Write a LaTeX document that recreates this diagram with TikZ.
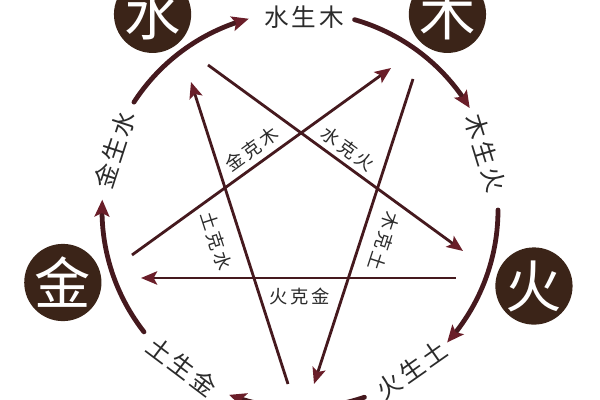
\documentclass[tikz,border=0pt]{standalone}
\usepackage{fontspec}
\usetikzlibrary{arrows.meta,bending}
\newfontfamily\cjk{Noto Sans CJK SC}
\newfontfamily\cjkout[LetterSpace=12]{Noto Sans CJK SC}
\newfontfamily\cjkin[LetterSpace=15]{Noto Sans CJK SC}
\definecolor{wxdark}{HTML}{3B2418}
\definecolor{wxline}{HTML}{45191E}
\definecolor{wxhead}{HTML}{6A1E29}
\definecolor{wxtext}{HTML}{2B2B2B}

\begin{document}
\begin{tikzpicture}[x=0.025cm, y=0.025cm,
	elem/.style={circle, fill=wxdark, text=white, minimum size=1.93cm, inner sep=0pt, font=\cjk\fontsize{40}{42}\selectfont},
	outlab/.style={text=wxtext, inner sep=0pt, font=\cjkout\fontsize{17.5}{20}\selectfont},
	inlab/.style={text=wxtext, inner sep=0pt, font=\cjkin\fontsize{13}{15}\selectfont},
	sheng/.style={draw=wxline, line width=3.4pt, line cap=round, -{Stealth[length=12pt, width=10.5pt, inset=2.5pt, color=wxhead, flex]}},
	ke/.style={draw=wxline, line width=2pt, -{Stealth[length=11.5pt, width=9.5pt, inset=2.5pt, color=wxhead]}}]
	\useasboundingbox (-300,-190) rectangle (300,210);
	\fill[white] (-300,-190) rectangle (300,210);
	\coordinate (O) at (0,0);
	% the elements
	\node[elem] (shui) at (127:245) {水};
	\node[elem] (mu) at (53:245) {木};
	\node[elem] (huo) at (-18:246) {火};
	\node[elem] (jin) at (197:248) {金};
	% sheng: labels on the ring
	\node[outlab] (sm) at (4,193) {水生木};
	\node[outlab, rotate=-73] (mh) at (17:194) {木生火};
	\node[outlab, rotate=35] (ht) at (-55:195) {火生土};
	\node[outlab, rotate=-37] (tj) at (-127:196) {土生金};
	\node[outlab, rotate=72] (js) at (162:195) {金生水};
	% sheng: arcs
	\coordinate (R1) at (147:198);
	\coordinate (R2) at (74:198);
	\coordinate (R3) at (0:198);
	\coordinate (R4) at (-71:198);
	\coordinate (R5) at (-142:198);
	\draw[sheng] (R1) arc[start angle=147, end angle=105, radius=198];
	\draw[sheng] (R2) arc[start angle=74, end angle=31, radius=198];
	\draw[sheng] (R3) arc[start angle=0, end angle=-42, radius=198];
	\draw[sheng] (R4) arc[start angle=-71, end angle=-111, radius=198];
	\draw[sheng] (R5) arc[start angle=-142, end angle=-183, radius=198];
	% ke: the star
	\coordinate (P1) at (-12,-174); \coordinate (Q1) at (-109,128);
	\coordinate (P2) at (-168,-45); \coordinate (Q2) at (91,142);
	\coordinate (P3) at (-92,145);  \coordinate (Q3) at (163,-41);
	\coordinate (P4) at (113,131);  \coordinate (Q4) at (14,-174);
	\coordinate (P5) at (156,-68);  \coordinate (Q5) at (-159,-68);
	\draw[ke] (P1) -- (Q1);
	\draw[ke] (P2) -- (Q2);
	\draw[ke] (P3) -- (Q3);
	\draw[ke] (P4) -- (Q4);
	\draw[ke] (P5) -- (Q5);
	\node[inlab, rotate=36] (jkm) at (-48,61) {金克木};
	\node[inlab, rotate=-36] (skh) at (48,61) {水克火};
	\node[inlab, rotate=-72] (tks) at (-84,-31) {土克水};
	\node[inlab, rotate=-108] (mkt) at (84,-31) {木克土};
	\node[inlab] (hkj) at (0,-86) {火克金};
\end{tikzpicture}
\end{document}
